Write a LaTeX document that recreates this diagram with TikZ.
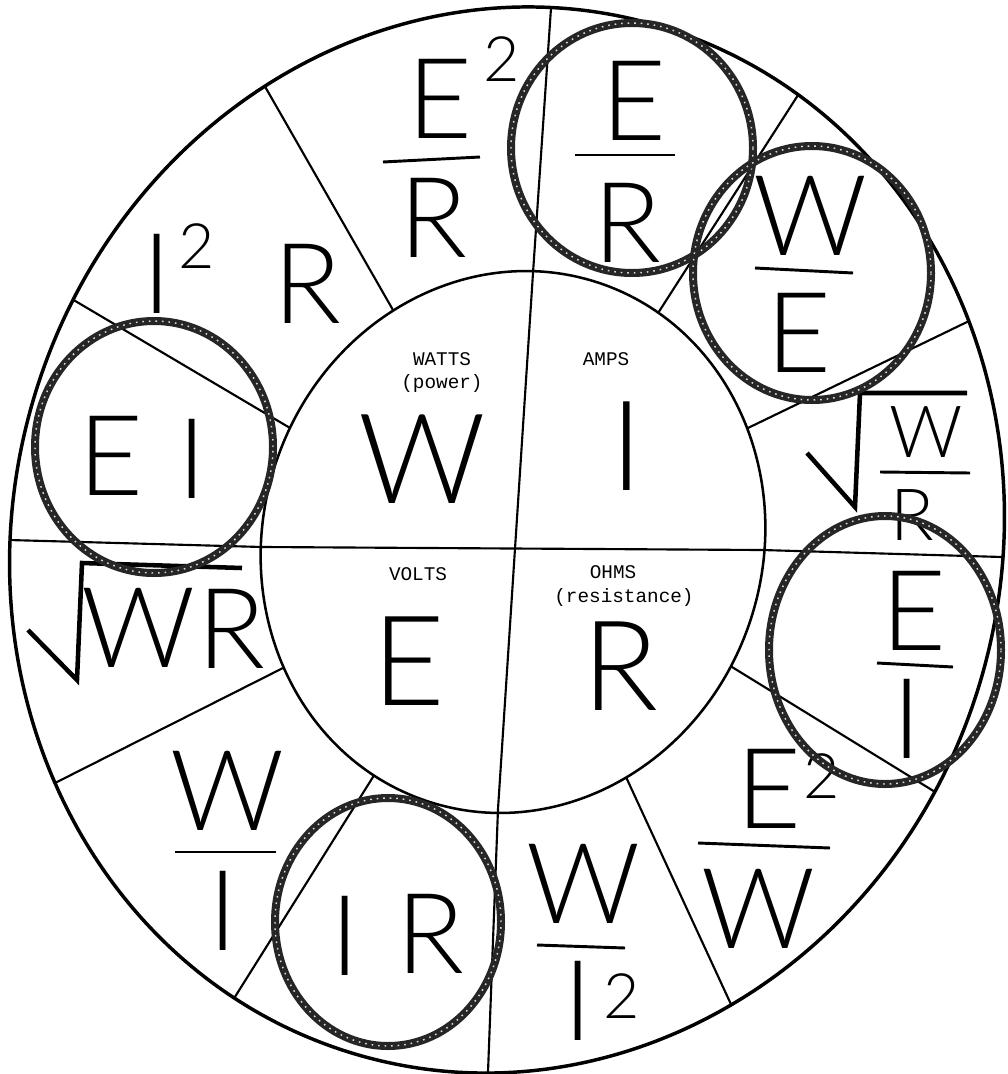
\documentclass[tikz,border=0pt]{standalone}
\usepackage{fontspec}
\usetikzlibrary{calc}
\IfFontExistsTF{Lato Light}{\newfontfamily\lett{Lato Light}}{\newfontfamily\lett{Lato}}
\newfontfamily\tw{Liberation Mono}
\begin{document}
\begin{tikzpicture}[x=0.75pt,y=-0.75pt,
  rimline/.style={line width=2.6pt},
  ringline/.style={line width=1.9pt},
  spokeline/.style={line width=1.6pt},
  fracbar/.style={line width=2.2pt},
  radline/.style={line width=3.4pt, line join=miter},
  handcirc/.style={line width=6pt, draw=black!85},
  handspeck/.style={line width=1.1pt, draw=white!85!black, dash pattern=on 1.2pt off 3.7pt},
  outerell/.style={shift={(507,540)}, rotate=-16},
  innerell/.style={shift={(513,542)}, rotate=-18},
  ctrletter/.style={anchor=base, inner sep=0pt, font=\lett\fontsize{94}{94}\selectfont},
  ringletter/.style={anchor=base, inner sep=0pt, font=\lett\fontsize{84}{84}\selectfont},
  smallletter/.style={anchor=base, inner sep=0pt, font=\lett\fontsize{54}{54}\selectfont},
  suptext/.style={anchor=base, inner sep=0pt, font=\lett\fontsize{47}{47}\selectfont},
  labeltext/.style={inner sep=0pt, font=\tw\fontsize{14.5}{15}\selectfont},
]
\path[use as bounding box] (0,0) rectangle (1007,1074);
\fill[white] (0,0) rectangle (1007,1074);

% outer rim reference points (spoke ends)
\coordinate (o1) at (551,8);
\coordinate (o2) at (800,92);
\coordinate (o3) at (967,322);
\coordinate (o4) at (1002,557);
\coordinate (o5) at (940,795);
\coordinate (o6) at (735,1013);
\coordinate (o7) at (488,1072);
\coordinate (o8) at (233,1000);
\coordinate (o9) at (55,783);
\coordinate (o10) at (9,540);
\coordinate (o11) at (77,302);
\coordinate (o12) at (271,97);
% inner circle reference points
\coordinate (i1) at (533,273);
\coordinate (i2) at (660,310);
\coordinate (i3) at (750,427);
\coordinate (i4) at (762,550);
\coordinate (i5) at (732,667);
\coordinate (i6) at (626,777);
\coordinate (i7) at (498,809);
\coordinate (i8) at (373,777);
\coordinate (i9) at (283,668);
\coordinate (i10) at (262,547);
\coordinate (i11) at (285,425);
\coordinate (i12) at (397,317);

% spokes, clipped to the rim
\begin{scope}
  \clip[outerell] (0,0) ellipse [x radius=370.5pt, y radius=402pt];
  \foreach \k in {2,3,5,6,8,9,11,12}
    {\draw[spokeline] ($(i\k)!-0.3!(o\k)$) -- ($(o\k)!-0.1!(i\k)$);}
  \fill[white, innerell] (0,0) ellipse [x radius=187.5pt, y radius=204.75pt];
  % the two diameters
  \draw[spokeline] ($(i1)!1.1!(o1)$) -- (i1) -- (i7) -- ($(i7)!1.1!(o7)$);
  \draw[spokeline] ($(i10)!1.1!(o10)$) -- (i10) -- (i4) -- ($(i4)!1.1!(o4)$);
\end{scope}
% inner circle and rim
\draw[ringline, innerell] (0,0) ellipse [x radius=187.5pt, y radius=204.75pt];
\draw[rimline, outerell] (0,0) ellipse [x radius=370.5pt, y radius=402pt];

% centre quadrant letters
\node[ctrletter] (cW) at (422,503) {W};
\node[ctrletter] (cI) at (627,490) {I};
\node[ctrletter] (cE) at (409,705) {E};
\node[ctrletter] (cR) at (621,710) {R};
\node[labeltext] (tW1) at (442,359) {WATTS};
\node[labeltext] (tW2) at (442,383) {(power)};
\node[labeltext] (tI1) at (606,359) {AMPS};
\node[labeltext] (tE1) at (418,574) {VOLTS};
\node[labeltext] (tR1) at (613,572) {OHMS};
\node[labeltext] (tR2) at (624,597) {(resistance)};

% E^2 / R
\node[ringletter] (a1) at (440,138) {E};
\node[suptext] (a2) at (502,82) {2};
\draw[fracbar] (383,162) -- (480,157);
\node[ringletter] (a3) at (433,257) {R};
% E / R
\node[ringletter] (b1) at (634,140) {E};
\draw[fracbar] (575,155) -- (675,155);
\node[ringletter] (b2) at (627,262) {R};
% W / E
\node[ringletter] (c1) at (810,255) {W};
\draw[fracbar] (755,268) -- (853,273);
\node[ringletter] (c2) at (799,372) {E};
% sqrt(W/R)
\draw[radline] (807,453) -- (855,507) -- (860,393) -- (967,393);
\node[smallletter] (d1) at (926,457) {W};
\draw[fracbar] (880,472) -- (970,473);
\node[smallletter] (d2) at (912,540) {R};
% E / I
\node[ringletter] (e1) at (914,650) {E};
\draw[fracbar] (877,663) -- (953,667);
\node[ringletter] (e2) at (907,758) {I};
% E^2 / W
\node[ringletter] (f1) at (769,828) {E};
\node[suptext] (f2) at (822,798) {2};
\draw[fracbar] (698,843) -- (830,848);
\node[ringletter] (f3) at (758,948) {W};
% W / I^2
\node[ringletter] (g1) at (583,923) {W};
\draw[fracbar] (537,945) -- (625,948);
\node[ringletter] (g2) at (578,1040) {I};
\node[suptext] (g3) at (622,1018) {2};
% IR
\node[ringletter] (h1) at (345,975) {I};
\node[ringletter] (h2) at (430,973) {R};
% W / I
\node[ringletter] (j1) at (227,830) {W};
\draw[fracbar] (175,852) -- (276,852);
\node[ringletter] (j2) at (223,950) {I};
% sqrt(WR)
\draw[radline] (28,630) -- (77,680) -- (82,563) -- (242,568);
\node[ringletter] (k1) at (138,667) {W};
\node[ringletter] (k2) at (231,668) {R};
% EI
\node[ringletter] (l1) at (111,495) {E};
\node[ringletter] (l2) at (192,498) {I};
% I^2 R
\node[ringletter] (m1) at (157,313) {I};
\node[suptext] (m2) at (197,268) {2};
\node[ringletter] (m3) at (307,323) {R};

% hand-drawn circles
\foreach \cx/\cy/\rx/\ry in {632/148/90.75/93.75, 812/273/89.25/95.25,
    154/447/89.25/94.5, 885/650/87/100.5, 388/922/84.75/93} {
  \draw[handcirc] (\cx,\cy) ellipse [x radius=\rx pt, y radius=\ry pt];
  \draw[handspeck] (\cx,\cy) ellipse [x radius=\rx pt, y radius=\ry pt];
}
\end{tikzpicture}
\end{document}
